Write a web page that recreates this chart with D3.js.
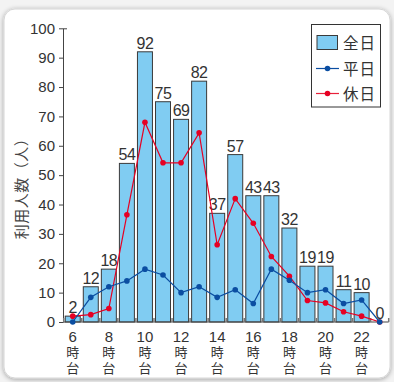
<!DOCTYPE html>
<html>
<head>
<meta charset="utf-8">
<script src="https://cdn.jsdelivr.net/npm/d3@7"></script>
<style>
  html, body { margin: 0; padding: 0; background: #ececec; }
  svg { display: block; }
</style>
</head>
<body>
<svg id="chart" width="394" height="382"></svg>
<script>
// Hourly users (人) by hour of day
const hours = [6, 7, 8, 9, 10, 11, 12, 13, 14, 15, 16, 17, 18, 19, 20, 21, 22, 23];
const allDays = [2, 12, 18, 54, 92, 75, 69, 82, 37, 57, 43, 43, 32, 19, 19, 11, 10, 0];
const weekdays = [0, 8.4, 12, 14, 18, 16, 10, 12, 8.4, 11, 6.3, 18, 14.2, 10, 11, 6.3, 7.5, 0];
const holidays = [2, 2.5, 4.6, 36.5, 68, 54.2, 54.2, 64.4, 26.3, 42, 33.6, 22.3, 15.6, 7.3, 6.5, 3.5, 2, 0];
const yTicks = [0, 10, 20, 30, 40, 50, 60, 70, 80, 90, 100];
const xLabelHours = [6, 8, 10, 12, 14, 16, 18, 20, 22];
const legendItems = ["全日", "平日", "休日"];

const svg = d3.select("#chart");
const font = "'Liberation Sans', Arial, sans-serif";
const cjk = "'Noto Sans CJK JP', sans-serif";

// card background with soft shadow
const defs = svg.append("defs");
const f = defs.append("filter").attr("id", "shadow").attr("x", "-5%").attr("y", "-5%").attr("width", "110%").attr("height", "110%");
f.append("feGaussianBlur").attr("in", "SourceAlpha").attr("stdDeviation", 2.5);
f.append("feOffset").attr("dx", 0).attr("dy", 1).attr("result", "b");
f.append("feComponentTransfer").append("feFuncA").attr("type", "linear").attr("slope", 0.35);
const m = f.append("feMerge");
m.append("feMergeNode");
m.append("feMergeNode").attr("in", "SourceGraphic");

svg.append("rect").attr("width", 394).attr("height", 382).attr("fill", "#f3f3f3");
svg.append("rect")
  .attr("x", 4).attr("y", 9).attr("width", 386).attr("height", 369)
  .attr("rx", 11).attr("fill", "#ffffff").attr("stroke", "#d6d6d6")
  .attr("filter", "url(#shadow)");

const x = d3.scaleBand().domain(hours).range([63.7, 388.7]).paddingInner(0.17).paddingOuter(0.085);
const y = d3.scaleLinear().domain([0, 100]).range([322, 28.3]);
const axisX = 63;

// bars
svg.append("g").selectAll("rect").data(hours).join("rect")
  .attr("x", d => x(d))
  .attr("y", (d, i) => y(allDays[i]))
  .attr("width", x.bandwidth())
  .attr("height", (d, i) => y(0) - y(allDays[i]))
  .attr("fill", "#80ccf2")
  .attr("stroke", "#3a3a3a")
  .attr("stroke-width", 1);

// value labels
svg.append("g").selectAll("text").data(hours).join("text")
  .attr("x", d => x(d) + x.bandwidth() / 2)
  .attr("y", (d, i) => y(allDays[i]) - 3)
  .attr("text-anchor", "middle")
  .attr("font-family", font).attr("font-size", 16)
  .attr("fill", "#333")
  .attr("letter-spacing", -0.5)
  .text((d, i) => allDays[i]);

// y axis
const yAxis = d3.axisLeft(y).tickValues(yTicks).tickSize(4).tickSizeOuter(0).tickPadding(4);
const gy = svg.append("g").attr("transform", `translate(${axisX},0)`).call(yAxis);
gy.select(".domain").attr("stroke", "#444");
gy.selectAll(".tick line").attr("stroke", "#444");
gy.selectAll(".tick text").attr("font-family", font).attr("font-size", 15).attr("fill", "#333");
gy.append("line").attr("x1", 0).attr("x2", 4).attr("y1", y(100) + 0.5).attr("y2", y(100) + 0.5).attr("stroke", "#444");

// x axis baseline with ticks at band boundaries
const bounds = hours.map(h => x(h) - x.step() * x.paddingInner() / 2).concat([x.range()[1]]);
const gx = svg.append("g");
gx.append("line").attr("x1", axisX).attr("x2", x.range()[1]).attr("y1", y(0)).attr("y2", y(0))
  .attr("stroke", "#444").attr("stroke-width", 1.2);
gx.selectAll("line.tk").data(bounds).join("line").attr("class", "tk")
  .attr("x1", d => d).attr("x2", d => d).attr("y1", y(0)).attr("y2", y(0) - 4)
  .attr("stroke", "#777").attr("stroke-width", 1.5);

// x labels: hour, 時, 台 stacked vertically in one text element
const xl = gx.selectAll("text.xl").data(xLabelHours).join("text").attr("class", "xl")
  .attr("text-anchor", "middle").attr("fill", "#333")
  .attr("transform", d => `translate(${x(d) + x.bandwidth() / 2},0)`);
xl.append("tspan").attr("x", 0).attr("y", 341.5)
  .attr("font-family", font).attr("font-size", 15).text(d => d);
xl.append("tspan").attr("x", 0).attr("y", 356.5)
  .attr("font-family", cjk).attr("font-size", 13).text("時");
xl.append("tspan").attr("x", 0).attr("y", 372.5)
  .attr("font-family", cjk).attr("font-size", 13).text("台");

// lines
const series = [
  { values: holidays, color: "#e60023" },
  { values: weekdays, color: "#0b4ea2" }
];
const line = d3.line().x((d, i) => x(hours[i]) + x.bandwidth() / 2).y(d => y(d));
series.forEach(s => {
  svg.append("path").datum(s.values).attr("d", line)
    .attr("fill", "none").attr("stroke", s.color).attr("stroke-width", 1.2);
  svg.append("g").selectAll("circle").data(s.values).join("circle")
    .attr("cx", (d, i) => x(hours[i]) + x.bandwidth() / 2)
    .attr("cy", d => y(d)).attr("r", 2.8).attr("fill", s.color);
});

// y axis title
svg.append("text")
  .attr("transform", "translate(27,185) rotate(-90)")
  .attr("text-anchor", "middle")
  .attr("font-family", cjk).attr("font-size", 15).attr("fill", "#444")
  .attr("letter-spacing", 0.5)
  .text("利用人数（人）");

// legend
const lg = svg.append("g");
lg.append("rect").attr("x", 311.5).attr("y", 24.5).attr("width", 69).attr("height", 82.5)
  .attr("fill", "#fff").attr("stroke", "#333");
const ly = [42.5, 68.5, 93.5];
lg.append("rect").attr("x", 317).attr("y", 35.5).attr("width", 20.5).attr("height", 14)
  .attr("fill", "#80ccf2").attr("stroke", "#3a3a3a");
[[1, "#0b4ea2"], [2, "#e8213a"]].forEach(([k, c]) => {
  lg.append("line").attr("x1", 316).attr("x2", 339).attr("y1", ly[k]).attr("y2", ly[k])
    .attr("stroke", c).attr("stroke-width", 1.2);
  lg.append("circle").attr("cx", 327.5).attr("cy", ly[k]).attr("r", 2.8).attr("fill", k === 2 ? "#e60023" : c);
});
lg.selectAll("text").data(legendItems).join("text")
  .attr("x", 343).attr("y", (d, i) => ly[i] + 6)
  .attr("font-family", cjk).attr("font-size", 15.5).attr("fill", "#333")
  .attr("letter-spacing", 1)
  .text(d => d);
</script>
</body>
</html>
